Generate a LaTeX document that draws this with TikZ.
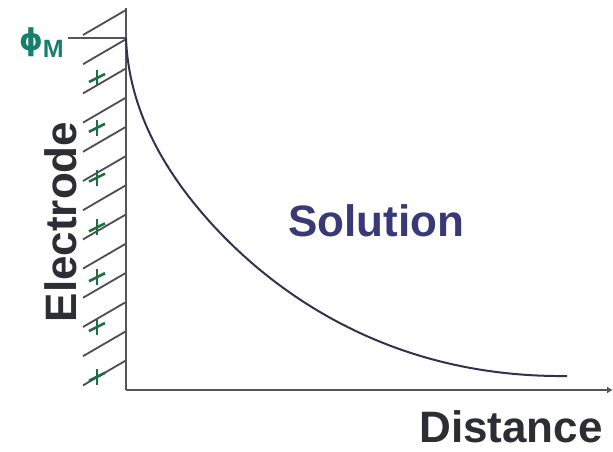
\documentclass[tikz,border=0pt]{standalone}
\usepackage{fontspec}
\setmainfont{Liberation Sans}
\newfontfamily\phifont{DejaVu Sans}
\usetikzlibrary{arrows.meta}
\definecolor{axisgray}{RGB}{85,85,90}
\definecolor{curvecol}{RGB}{50,50,80}
\definecolor{txtdark}{RGB}{45,45,52}
\definecolor{solcol}{RGB}{55,58,118}
\definecolor{phicol}{RGB}{22,128,108}
\definecolor{pluscol}{RGB}{30,110,65}
\begin{document}
\begin{tikzpicture}[x=1pt,y=-1pt,
  axisline/.style={draw=axisgray,line width=2.5pt},
  hatchline/.style={draw=axisgray!90!black,line width=1.8pt},
  curveline/.style={draw=curvecol,line width=2pt},
  plusmark/.style={draw=pluscol,line width=2.6pt},
  bigtext/.style={font=\bfseries\fontsize{44}{50}\selectfont,inner sep=0pt}]
\useasboundingbox (0,0) rectangle (613,452);
\coordinate (top) at (126,8);
\coordinate (origin) at (126,390);
\coordinate (xend) at (613,390);
\coordinate (phistart) at (68,38);
\coordinate (phiend) at (126,38);
\coordinate (mid) at (210,222);
\coordinate (tail) at (567,376);
% hatching
\foreach \i in {0,...,12}{
  \draw[hatchline] (83,{35+29.2*\i}) -- (126,{10+29.2*\i});
}
% plus signs
\foreach \i in {0,...,6}{
  \draw[plusmark] (97,{78+49.8*\i-8}) -- (97,{78+49.8*\i+8});
  \draw[plusmark] (89,{78+49.8*\i+4}) -- (105,{78+49.8*\i-4});
}
% axes
\draw[axisline] (top) -- (origin);
\draw[axisline,-{Latex[length=6pt,width=7pt]}] (origin) -- (xend);
\draw[axisline] (phistart) -- (phiend);
% curve
\draw[curveline] (phiend) .. controls (129,120) and (175,183) .. (mid)
  .. controls (265,283) and (380,378) .. (tail);
% labels
\node[text=phicol,font=\bfseries\fontsize{30}{34}\selectfont,inner sep=0pt,anchor=base east] (phi) at (64,51) {{\phifont\bfseries ϕ}\raisebox{-7pt}{\fontsize{25}{28}\selectfont M}};
\node[bigtext,text=txtdark,rotate=90,anchor=base] (electrode) at (76,222) {Electrode};
\node[bigtext,text=solcol,anchor=base] (solution) at (376,236) {Solution};
\node[bigtext,text=txtdark,anchor=base] (distance) at (511,442) {Distance};
\end{tikzpicture}
\end{document}
